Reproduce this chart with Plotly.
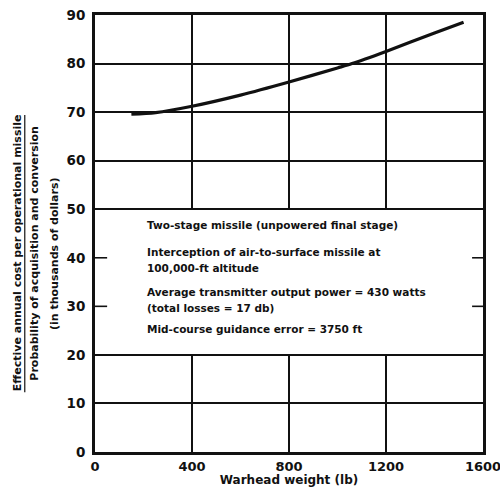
import plotly.graph_objects as go

# Warhead weight (lb) vs. effective cost ratio (thousands of dollars)
warhead_lb = [150, 250, 400, 600, 800, 1000, 1060, 1200, 1400, 1520]
cost_ratio = [69.6, 69.9, 71.2, 73.5, 76.2, 79.1, 80.0, 82.5, 86.3, 88.5]

x_ticks = [0, 400, 800, 1200, 1600]
y_ticks = [0, 10, 20, 30, 40, 50, 60, 70, 80, 90]

note_lines = [
    ("Two-stage missile (unpowered final stage)", 46.7),
    ("Interception of air-to-surface missile at", 41.2),
    ("100,000-ft altitude", 37.9),
    ("Average transmitter output power = 430 watts", 32.9),
    ("(total losses = 17 db)", 29.6),
    ("Mid-course guidance error = 3750 ft", 25.3),
]

FONT = "DejaVu Sans"
INK = "#111111"

fig = go.Figure()
fig.add_trace(go.Scatter(
    x=warhead_lb, y=cost_ratio, mode="lines",
    line=dict(color=INK, width=3.2, shape="spline", smoothing=0.8),
    showlegend=False, hoverinfo="skip",
))

shapes = [
    # white panel holding the notes, covering the grid between 20 and 50
    dict(type="rect", xref="x", yref="y", x0=0, x1=1600, y0=20, y1=50,
         fillcolor="white", line=dict(width=0), layer="between"),
    dict(type="line", xref="x", yref="y", x0=0, x1=1600, y0=50, y1=50,
         line=dict(color=INK, width=1.6), layer="between"),
    dict(type="line", xref="x", yref="y", x0=0, x1=1600, y0=20, y1=20,
         line=dict(color=INK, width=1.6), layer="between"),
]
# short tick stubs at 30 and 40 on both frame sides
for v in (30, 40):
    shapes.append(dict(type="line", xref="x", yref="y", x0=0, x1=50, y0=v, y1=v,
                       line=dict(color=INK, width=1.6)))
    shapes.append(dict(type="line", xref="x", yref="y", x0=1555, x1=1600, y0=v, y1=v,
                       line=dict(color=INK, width=1.6)))
# fraction bar in the y-axis title
shapes.append(dict(type="line", xref="paper", yref="paper", x0=-0.181, x1=-0.181,
                   y0=0.137, y1=0.771, line=dict(color=INK, width=1.2)))

annotations = [
    dict(text=t, x=206, y=v, xref="x", yref="y", xanchor="left", yanchor="middle",
         showarrow=False,
         font=dict(family=FONT, size=10.5, color=INK, weight="bold"))
    for t, v in note_lines
]
for txt, px in [
    ("Effective annual cost per operational missile", -0.201),
    ("Probability of acquisition and conversion", -0.156),
    ("(in thousands of dollars)", -0.106),
]:
    annotations.append(dict(text=txt, x=px, y=0.455, xref="paper", yref="paper",
                            xanchor="center", yanchor="middle", textangle=-90,
                            showarrow=False,
                            font=dict(family=FONT, size=11, color=INK, weight="bold")))

fig.update_layout(
    width=500, height=497,
    margin=dict(l=95, r=17, t=15, b=45, autoexpand=False),
    paper_bgcolor="white", plot_bgcolor="white",
    shapes=shapes, annotations=annotations,
    xaxis=dict(
        range=[0, 1600], tickvals=x_ticks, ticktext=[str(t) for t in x_ticks],
        showgrid=True, gridcolor=INK, gridwidth=1.6,
        showline=True, linecolor=INK, linewidth=2.8, mirror=True,
        ticks="", zeroline=False, ticklabeloverflow="allow", automargin=False,
        tickfont=dict(family=FONT, size=13, color=INK, weight="bold"),
        title=dict(text="Warhead weight (lb)", standoff=0,
                   font=dict(family=FONT, size=12, color=INK, weight="bold")),
    ),
    yaxis=dict(
        range=[0, 90], tickvals=y_ticks, ticktext=[str(t) for t in y_ticks],
        showgrid=True, gridcolor=INK, gridwidth=1.6,
        showline=True, linecolor=INK, linewidth=2.8, mirror=True,
        ticks="", zeroline=False, ticklabelstandoff=4, ticklabeloverflow="allow",
        automargin=False,
        tickfont=dict(family=FONT, size=13.5, color=INK, weight="bold"),
    ),
)

fig.write_html("out.html")
